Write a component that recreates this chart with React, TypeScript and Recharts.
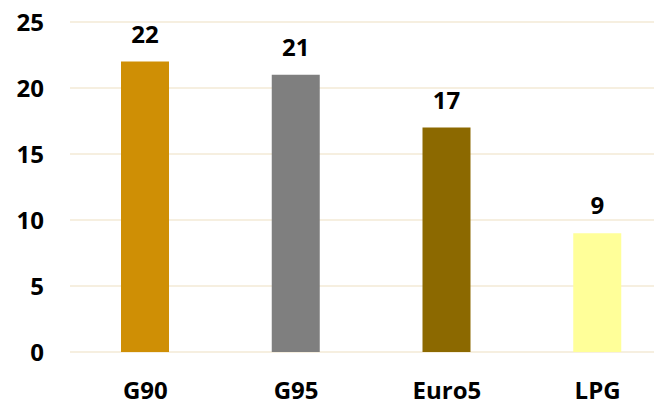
import { BarChart, Bar, XAxis, YAxis, CartesianGrid, Cell, LabelList } from "recharts";

const fuels = ["G90", "G95", "Euro5", "LPG"];
const prices = [22, 21, 17, 9];
const fuelColors = ["#CF8F05", "#7F7F7F", "#8C6900", "#FFFF99"];
const yTicks = [0, 5, 10, 15, 20, 25];

const data = fuels.map((name, i) => ({ name, value: prices[i] }));

const font = "'Open Sans', sans-serif";
const tickStyle = { fill: "#000", fontSize: 24, fontWeight: 700, fontFamily: font };

export default function App() {
  return (
    <div
      style={{
        position: "absolute",
        left: 0,
        top: 0,
        width: 654,
        height: 402,
        overflow: "hidden",
        background: "#fff",
      }}
    >
      <BarChart
        width={673}
        height={402}
        data={data}
        margin={{ top: 22, right: 0, left: 0, bottom: 0 }}
      >
        <CartesianGrid vertical={false} stroke="#F6EFE0" strokeWidth={2} />
        <XAxis
          dataKey="name"
          height={50}
          axisLine={false}
          tickLine={false}
          tickMargin={24}
          tick={tickStyle}
          interval={0}
        />
        <YAxis
          width={70}
          domain={[0, 25]}
          ticks={yTicks}
          axisLine={false}
          tickLine={false}
          tickMargin={20}
          tick={tickStyle}
        />
        <Bar dataKey="value" barSize={48} isAnimationActive={false}>
          {data.map((d, i) => (
            <Cell key={d.name} fill={fuelColors[i]} />
          ))}
          <LabelList
            dataKey="value"
            position="top"
            offset={19}
            style={{ fill: "#000", fontSize: 24, fontWeight: 700, fontFamily: font }}
          />
        </Bar>
      </BarChart>
    </div>
  );
}
